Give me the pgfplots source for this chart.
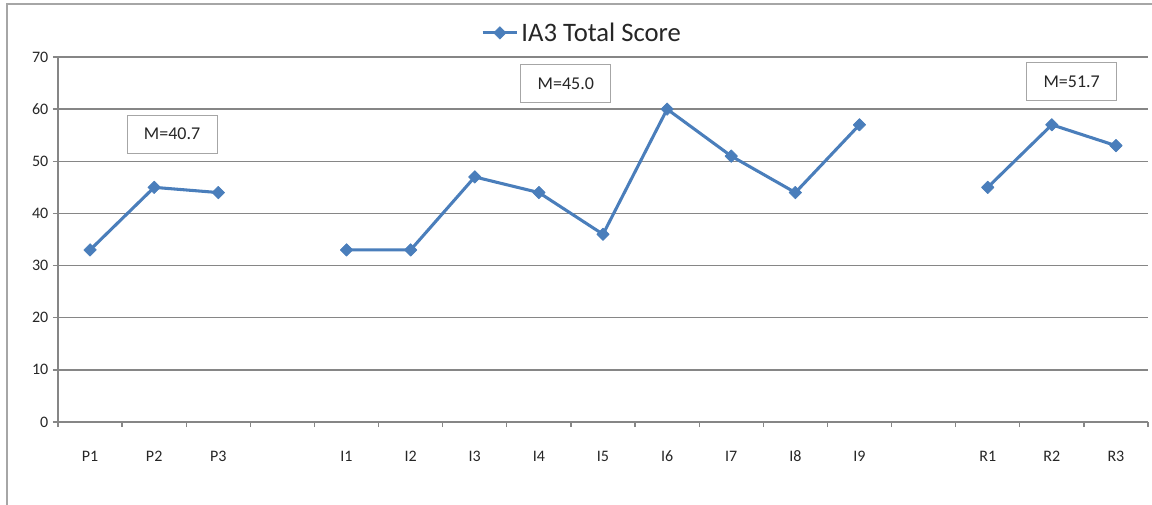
\documentclass[border=0pt]{standalone}
\usepackage{pgfplots}
\pgfplotsset{compat=1.18}
\usepackage{fontspec}
\setmainfont{Carlito}
\definecolor{lineblue}{HTML}{4A7EBB}
\definecolor{gridgray}{HTML}{868686}
\definecolor{framegray}{HTML}{A6A6A6}
\definecolor{txt}{HTML}{262626}
\begin{document}
\begin{tikzpicture}
\begin{scope}[x=0.75pt,y=0.75pt]
\path[use as bounding box] (-58,-82) rectangle (1094,422);
\draw[framegray, line width=1.2pt] (-51,-95) -- (-51,418) -- (1110,418);
\end{scope}
\begin{axis}[
  at={(0,0)}, anchor=south west,
  scale only axis, width=817.5pt, height=273.75pt,
  xmin=-0.5, xmax=16.5, ymin=0, ymax=70,
  axis lines=left, axis line style={-, gridgray, line width=1pt},
  tick align=outside,
  ytick={0,10,...,70},
  xtick={0,1,2,4,5,6,7,8,9,10,11,12,14,15,16},
  xticklabels={P1,P2,P3,I1,I2,I3,I4,I5,I6,I7,I8,I9,R1,R2,R3},
  minor xtick={-0.5,0.5,...,16.5},
  major tick length=3.75pt, minor tick length=3.75pt,
  tick style={gridgray, line width=1pt},
  major x tick style={draw=none},
  ymajorgrids, grid style={gridgray, line width=1pt},
  xticklabel style={anchor=base, yshift=-25.5pt, font=\fontsize{12}{14}\selectfont, text=txt},
  yticklabel style={font=\fontsize{12}{14}\selectfont, text=txt},
  /pgf/number format/assume math mode=true,
  unbounded coords=jump,
  legend style={draw=none, fill=none, at={(0.481,1.066)}, anchor=center,
    font=\fontsize{20}{24}\selectfont, text=txt, inner sep=0pt},
  legend image code/.code={\draw[#1, mark repeat=2, mark phase=2] plot coordinates {(0pt,0pt)(13pt,0pt)(26pt,0pt)};},
  clip=false,
]
\addplot[lineblue, line width=2.3pt, line join=round, mark=square*,
  mark size=3.3pt, mark options={solid, rotate=45, fill=lineblue, line width=0.5pt}]
coordinates {
(0,33) (1,45) (2,44) (3,nan)
(4,33) (5,33) (6,47) (7,44) (8,36) (9,60) (10,51) (11,44) (12,57) (13,nan)
(14,45) (15,57) (16,53)
};
\addlegendentry{IA3 Total Score}
\tikzset{mbox/.style={draw=framegray, fill=white, line width=0.8pt, minimum width=67.5pt,
  minimum height=28.5pt, font=\fontsize{13.5}{16}\selectfont, text=txt}}
\node[mbox] at (axis cs:1.28,55.2) {M=40.7};
\node[mbox] at (axis cs:7.42,64.9) {M=45.0};
\node[mbox] at (axis cs:15.31,65.3) {M=51.7};
\end{axis}
\end{tikzpicture}
\end{document}
